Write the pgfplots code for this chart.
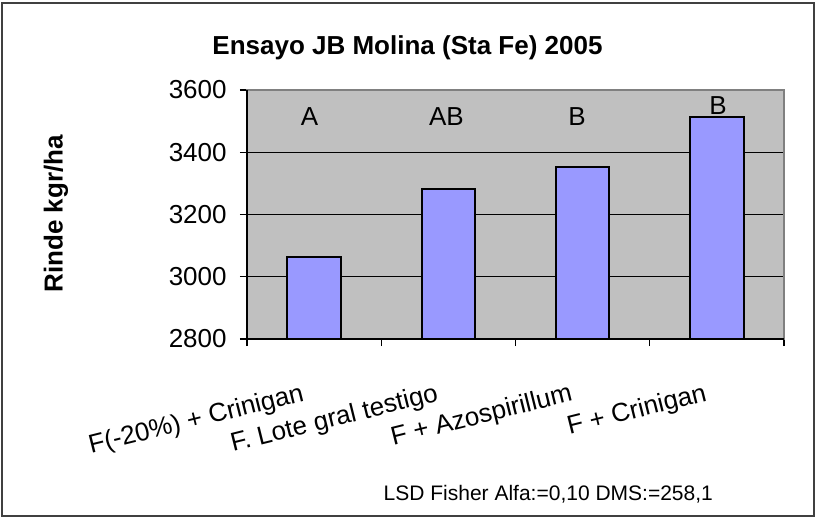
\documentclass[border=0pt]{standalone}
\usepackage{pgfplots}
\pgfplotsset{compat=1.18}
\usepackage{fontspec}
\setmainfont{Liberation Sans}
\definecolor{plotbg}{HTML}{C0C0C0}
\definecolor{barfill}{HTML}{9999FF}
\definecolor{framecol}{HTML}{404040}
\definecolor{bordergray}{HTML}{808080}
\begin{document}
\begin{tikzpicture}
\path[use as bounding box] (0,0) rectangle (407.5bp,259bp);
\draw[framecol, line width=1bp] (0.75bp,1.25bp) rectangle (406.75bp,257.5bp);
\begin{axis}[
  name=ax,
  at={(123.5bp,89.5bp)}, anchor=south west,
  width=268.5bp, height=124.5bp, scale only axis,
  xmin=-0.5, xmax=3.5, ymin=2800, ymax=3600,
  axis background/.style={fill=plotbg},
  axis line style={bordergray, line width=1bp},
  ytick={2800,3000,3200,3400,3600},
  xtick={0,1,2,3},
  xticklabels={F(-20\%) + Crinigan, F. Lote gral testigo, F + Azospirillum, F + Crinigan},
  minor xtick={-0.5,0.5,1.5,2.5,3.5},
  major x tick style={draw=none},
  minor x tick style={black, line width=0.6bp},
  major y tick style={black, line width=0.6bp},
  tick align=outside, tick pos=left,
  major tick length=3.5bp, minor tick length=3.5bp,
  ymajorgrids, major grid style={black, line width=0.6bp},
  /pgf/number format/1000 sep={},
  /pgf/number format/assume math mode=true,
  ticklabel style={font=\fontsize{13bp}{15bp}\selectfont},
  yticklabel style={anchor=east, inner sep=0pt, xshift=-6.5bp},
  xticklabel style={inner sep=0pt, anchor=base east, xshift=-4.4bp, yshift=-27.2bp, rotate=14},
]
\addplot[ybar, bar width=0.4, fill=barfill, draw=black, line width=1bp]
  coordinates {(0,3063) (1,3283) (2,3354) (3,3512)};
\node[font=\fontsize{13bp}{15bp}\selectfont] at (axis cs:-0.034,3514) {A};
\node[font=\fontsize{13bp}{15bp}\selectfont] at (axis cs:0.986,3514) {AB};
\node[font=\fontsize{13bp}{15bp}\selectfont] at (axis cs:1.958,3514) {B};
\node[font=\fontsize{13bp}{15bp}\selectfont] at (axis cs:3.008,3549) {B};
\end{axis}
\draw[bordergray, line width=1bp] (ax.north west) -- (ax.north east) -- (ax.south east);
\draw[black, line width=1bp] (ax.north west) -- (ax.south west) -- (ax.south east);
\node[font=\bfseries\fontsize{13bp}{15bp}\selectfont, anchor=base] at (203.75bp,231.5bp) {Ensayo JB Molina (Sta Fe) 2005};
\node[font=\bfseries\fontsize{13bp}{15bp}\selectfont, anchor=base, rotate=90] at (31.35bp,152bp) {Rinde kgr/ha};
\node[font=\fontsize{10.5bp}{12bp}\selectfont, anchor=base] at (274.15bp,9bp) {LSD Fisher Alfa:=0,10 DMS:=258,1};
\end{tikzpicture}
\end{document}
